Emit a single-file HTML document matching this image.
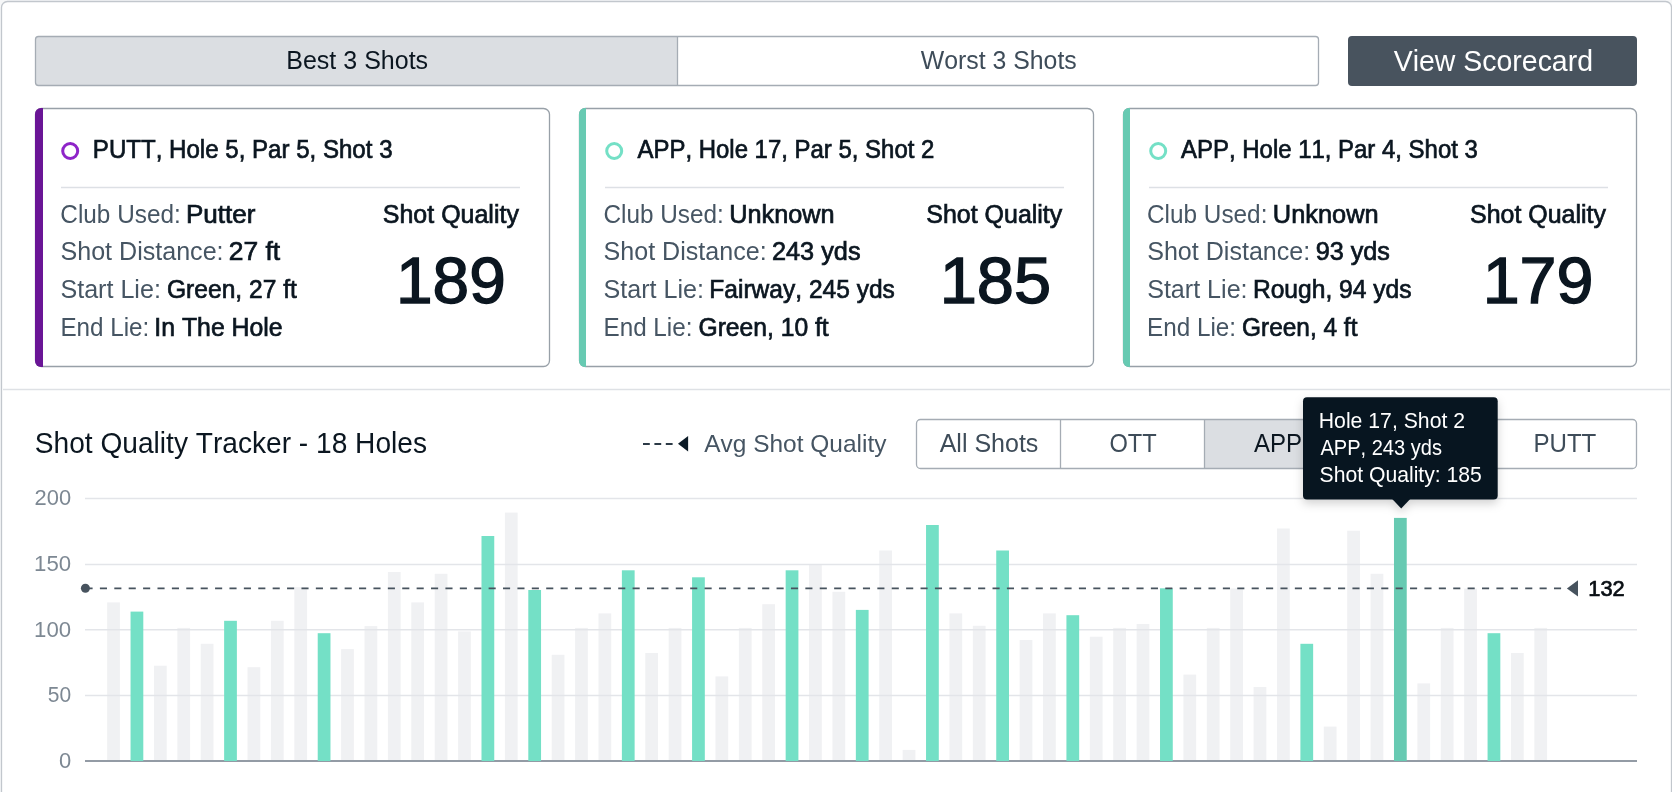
<!DOCTYPE html>
<html><head><meta charset="utf-8"><style>
html,body{margin:0;padding:0;background:#F6F7F8;width:1672px;height:792px;overflow:hidden}
svg{display:block}
text{font-family:"Liberation Sans", sans-serif;font-kerning:none}
</style></head><body>
<svg width="1672" height="792" viewBox="0 0 1672 792">
<defs><filter id="sh" x="-20%" y="-20%" width="140%" height="160%" color-interpolation-filters="sRGB"><feDropShadow dx="0" dy="4" stdDeviation="5" flood-color="#000" flood-opacity="0.18"/></filter></defs>
<rect x="1.5" y="1.5" width="1670" height="900" rx="6" fill="#FFFFFF" stroke="#C2C7CD" stroke-width="1.3"/>
<rect x="35.5" y="36.5" width="1283" height="49" rx="3" fill="#FFFFFF"/>
<path d="M38.5,36.5 H677.5 V85.5 H38.5 A3,3 0 0 1 35.5,82.5 V39.5 A3,3 0 0 1 38.5,36.5 Z" fill="#DBDEE2"/>
<rect x="35.5" y="36.5" width="1283" height="49" rx="3" fill="none" stroke="#A5ACB4" stroke-width="1.3"/>
<line x1="677.5" x2="677.5" y1="36.5" y2="85.5" stroke="#A5ACB4" stroke-width="1.3"/>
<rect x="1348" y="36" width="289" height="50" rx="4" fill="#48535E"/>
<rect x="35.5" y="108.5" width="514" height="258" rx="6" fill="#FFFFFF" stroke="#98A0A8" stroke-width="1.3"/>
<path d="M43,107.9 L41,107.9 A6,6 0 0 0 35,113.9 L35,361.1 A6,6 0 0 0 41,367.1 L43,367.1 Z" fill="#6A1596"/>
<circle cx="70.2" cy="151" r="7.5" fill="none" stroke="#8E24C8" stroke-width="3"/>
<line x1="61" x2="520" y1="187.5" y2="187.5" stroke="#DDE0E5" stroke-width="1.3"/>
<rect x="579.5" y="108.5" width="514" height="258" rx="6" fill="#FFFFFF" stroke="#98A0A8" stroke-width="1.3"/>
<path d="M586,107.9 L585,107.9 A6,6 0 0 0 579,113.9 L579,361.1 A6,6 0 0 0 585,367.1 L586,367.1 Z" fill="#67CAB2"/>
<circle cx="614.2" cy="151" r="7.5" fill="none" stroke="#74E0C6" stroke-width="3"/>
<line x1="605" x2="1064" y1="187.5" y2="187.5" stroke="#DDE0E5" stroke-width="1.3"/>
<rect x="1123.5" y="108.5" width="513" height="258" rx="6" fill="#FFFFFF" stroke="#98A0A8" stroke-width="1.3"/>
<path d="M1130,107.9 L1129,107.9 A6,6 0 0 0 1123,113.9 L1123,361.1 A6,6 0 0 0 1129,367.1 L1130,367.1 Z" fill="#67CAB2"/>
<circle cx="1158.2" cy="151" r="7.5" fill="none" stroke="#74E0C6" stroke-width="3"/>
<line x1="1149" x2="1608" y1="187.5" y2="187.5" stroke="#DDE0E5" stroke-width="1.3"/>
<line x1="3" x2="1670" y1="389.5" y2="389.5" stroke="#DEE1E5" stroke-width="1.3"/>
<line x1="643" x2="673" y1="444" y2="444" stroke="#2C3A46" stroke-width="1.8" stroke-dasharray="6.8 4.6"/>
<path d="M678,443.8 L688.1,436 L688.1,451.6 Z" fill="#0B1A26"/>
<rect x="916.5" y="419.5" width="720.0" height="49" rx="4" fill="#FFFFFF"/>
<rect x="1204.5" y="419.5" width="144.0" height="49" fill="#DBDEE2"/>
<rect x="916.5" y="419.5" width="720.0" height="49" rx="4" fill="none" stroke="#A5ACB4" stroke-width="1.3"/>
<line x1="1060.5" x2="1060.5" y1="419.5" y2="468.5" stroke="#A5ACB4" stroke-width="1.3"/>
<line x1="1204.5" x2="1204.5" y1="419.5" y2="468.5" stroke="#A5ACB4" stroke-width="1.3"/>
<line x1="1348.5" x2="1348.5" y1="419.5" y2="468.5" stroke="#A5ACB4" stroke-width="1.3"/>
<line x1="1492.5" x2="1492.5" y1="419.5" y2="468.5" stroke="#A5ACB4" stroke-width="1.3"/>
<rect x="107.15" y="602.4" width="12.75" height="158.6" fill="#F0F1F3"/>
<rect x="153.94" y="665.7" width="12.75" height="95.3" fill="#F0F1F3"/>
<rect x="177.34" y="627.9" width="12.75" height="133.1" fill="#F0F1F3"/>
<rect x="200.74" y="643.8" width="12.75" height="117.2" fill="#F0F1F3"/>
<rect x="247.53" y="667.2" width="12.75" height="93.8" fill="#F0F1F3"/>
<rect x="270.93" y="620.8" width="12.75" height="140.2" fill="#F0F1F3"/>
<rect x="294.33" y="587.2" width="12.75" height="173.8" fill="#F0F1F3"/>
<rect x="341.12" y="649.1" width="12.75" height="111.9" fill="#F0F1F3"/>
<rect x="364.52" y="626.1" width="12.75" height="134.9" fill="#F0F1F3"/>
<rect x="387.91" y="572.0" width="12.75" height="189.0" fill="#F0F1F3"/>
<rect x="411.31" y="602.4" width="12.75" height="158.6" fill="#F0F1F3"/>
<rect x="434.71" y="573.8" width="12.75" height="187.2" fill="#F0F1F3"/>
<rect x="458.11" y="631.4" width="12.75" height="129.6" fill="#F0F1F3"/>
<rect x="504.90" y="512.6" width="12.75" height="248.4" fill="#F0F1F3"/>
<rect x="551.69" y="654.8" width="12.75" height="106.2" fill="#F0F1F3"/>
<rect x="575.09" y="627.9" width="12.75" height="133.1" fill="#F0F1F3"/>
<rect x="598.49" y="613.4" width="12.75" height="147.6" fill="#F0F1F3"/>
<rect x="645.28" y="653.0" width="12.75" height="108.0" fill="#F0F1F3"/>
<rect x="668.68" y="627.9" width="12.75" height="133.1" fill="#F0F1F3"/>
<rect x="715.47" y="676.4" width="12.75" height="84.6" fill="#F0F1F3"/>
<rect x="738.87" y="627.9" width="12.75" height="133.1" fill="#F0F1F3"/>
<rect x="762.27" y="604.2" width="12.75" height="156.8" fill="#F0F1F3"/>
<rect x="809.06" y="564.6" width="12.75" height="196.4" fill="#F0F1F3"/>
<rect x="832.46" y="591.8" width="12.75" height="169.2" fill="#F0F1F3"/>
<rect x="879.25" y="550.5" width="12.75" height="210.5" fill="#F0F1F3"/>
<rect x="902.65" y="749.9" width="12.75" height="11.1" fill="#F0F1F3"/>
<rect x="949.44" y="613.4" width="12.75" height="147.6" fill="#F0F1F3"/>
<rect x="972.84" y="625.8" width="12.75" height="135.2" fill="#F0F1F3"/>
<rect x="1019.63" y="640.0" width="12.75" height="121.0" fill="#F0F1F3"/>
<rect x="1043.03" y="613.4" width="12.75" height="147.6" fill="#F0F1F3"/>
<rect x="1089.82" y="636.7" width="12.75" height="124.3" fill="#F0F1F3"/>
<rect x="1113.22" y="627.9" width="12.75" height="133.1" fill="#F0F1F3"/>
<rect x="1136.62" y="624.0" width="12.75" height="137.0" fill="#F0F1F3"/>
<rect x="1183.41" y="674.6" width="12.75" height="86.4" fill="#F0F1F3"/>
<rect x="1206.81" y="627.9" width="12.75" height="133.1" fill="#F0F1F3"/>
<rect x="1230.21" y="588.5" width="12.75" height="172.5" fill="#F0F1F3"/>
<rect x="1253.60" y="687.0" width="12.75" height="74.0" fill="#F0F1F3"/>
<rect x="1277.00" y="528.5" width="12.75" height="232.5" fill="#F0F1F3"/>
<rect x="1323.79" y="726.6" width="12.75" height="34.4" fill="#F0F1F3"/>
<rect x="1347.19" y="530.7" width="12.75" height="230.3" fill="#F0F1F3"/>
<rect x="1370.59" y="573.8" width="12.75" height="187.2" fill="#F0F1F3"/>
<rect x="1417.38" y="683.4" width="12.75" height="77.6" fill="#F0F1F3"/>
<rect x="1440.78" y="627.9" width="12.75" height="133.1" fill="#F0F1F3"/>
<rect x="1464.18" y="588.6" width="12.75" height="172.4" fill="#F0F1F3"/>
<rect x="1510.97" y="653.0" width="12.75" height="108.0" fill="#F0F1F3"/>
<rect x="1534.37" y="627.9" width="12.75" height="133.1" fill="#F0F1F3"/>
<line x1="85" x2="1637" y1="498.4" y2="498.4" stroke="#E3E5E9" stroke-width="1.5"/>
<line x1="85" x2="1637" y1="564.4" y2="564.4" stroke="#E3E5E9" stroke-width="1.5"/>
<line x1="85" x2="1637" y1="629.8" y2="629.8" stroke="#E3E5E9" stroke-width="1.5"/>
<line x1="85" x2="1637" y1="695.6" y2="695.6" stroke="#E3E5E9" stroke-width="1.5"/>
<line x1="85" x2="1637" y1="761" y2="761" stroke="#939BA5" stroke-width="1.8"/>
<rect x="130.55" y="611.6" width="12.75" height="149.4" fill="#74E0C6"/>
<rect x="224.13" y="620.8" width="12.75" height="140.2" fill="#74E0C6"/>
<rect x="317.72" y="633.2" width="12.75" height="127.8" fill="#74E0C6"/>
<rect x="481.50" y="536.0" width="12.75" height="225.0" fill="#74E0C6"/>
<rect x="528.30" y="590.0" width="12.75" height="171.0" fill="#74E0C6"/>
<rect x="621.88" y="570.3" width="12.75" height="190.7" fill="#74E0C6"/>
<rect x="692.07" y="577.3" width="12.75" height="183.7" fill="#74E0C6"/>
<rect x="785.66" y="570.3" width="12.75" height="190.7" fill="#74E0C6"/>
<rect x="855.85" y="609.9" width="12.75" height="151.1" fill="#74E0C6"/>
<rect x="926.04" y="525.0" width="12.75" height="236.0" fill="#74E0C6"/>
<rect x="996.24" y="550.5" width="12.75" height="210.5" fill="#74E0C6"/>
<rect x="1066.43" y="615.2" width="12.75" height="145.8" fill="#74E0C6"/>
<rect x="1160.02" y="588.3" width="12.75" height="172.7" fill="#74E0C6"/>
<rect x="1300.40" y="643.8" width="12.75" height="117.2" fill="#74E0C6"/>
<rect x="1393.98" y="517.9" width="12.75" height="243.1" fill="#67CAB2"/>
<rect x="1487.57" y="633.2" width="12.75" height="127.8" fill="#74E0C6"/>
<line x1="85.5" x2="1567" y1="588.3" y2="588.3" stroke="#47535E" stroke-width="1.8" stroke-dasharray="7.1 7.297"/>
<circle cx="85.4" cy="588.3" r="4.5" fill="#47535E"/>
<path d="M1566.9,588.4 L1578,580.2 L1578,596.6 Z" fill="#47535E"/>
<g filter="url(#sh)"><rect x="1303" y="397.3" width="194.7" height="102.2" rx="4" fill="#071520"/><path d="M1392.2,499 L1401.2,508.6 L1410.2,499 Z" fill="#071520"/></g>
<g opacity="0.999">
<text x="286.25" y="68.80" font-size="25.3" fill="#0B1620" textLength="141.86" lengthAdjust="spacingAndGlyphs">Best 3 Shots</text>
<text x="920.79" y="68.70" font-size="25.3" fill="#3E4C59" textLength="155.91" lengthAdjust="spacingAndGlyphs">Worst 3 Shots</text>
<text x="1393.67" y="70.90" font-size="29.0" fill="#FFFFFF" textLength="199.36" lengthAdjust="spacingAndGlyphs">View Scorecard</text>
<text x="92.86" y="158.10" font-size="25.3" fill="#0B1620" stroke="#0B1620" stroke-width="0.7" textLength="299.67" lengthAdjust="spacingAndGlyphs">PUTT, Hole 5, Par 5, Shot 3</text>
<text x="60.36" y="222.90" font-size="25.3" fill="#465563" textLength="120.36" lengthAdjust="spacingAndGlyphs">Club Used:</text>
<text x="185.92" y="222.90" font-size="25.3" fill="#0B1620" stroke="#0B1620" stroke-width="0.7" textLength="69.55" lengthAdjust="spacingAndGlyphs">Putter</text>
<text x="60.46" y="259.70" font-size="25.3" fill="#465563" textLength="163.13" lengthAdjust="spacingAndGlyphs">Shot Distance:</text>
<text x="228.84" y="259.70" font-size="25.3" fill="#0B1620" stroke="#0B1620" stroke-width="0.7" textLength="51.39" lengthAdjust="spacingAndGlyphs">27 ft</text>
<text x="60.46" y="298.00" font-size="25.3" fill="#465563" textLength="100.43" lengthAdjust="spacingAndGlyphs">Start Lie:</text>
<text x="167.00" y="298.00" font-size="25.3" fill="#0B1620" stroke="#0B1620" stroke-width="0.7" textLength="129.84" lengthAdjust="spacingAndGlyphs">Green, 27 ft</text>
<text x="60.41" y="335.70" font-size="25.3" fill="#465563" textLength="88.90" lengthAdjust="spacingAndGlyphs">End Lie:</text>
<text x="154.35" y="335.70" font-size="25.3" fill="#0B1620" stroke="#0B1620" stroke-width="0.7" textLength="128.31" lengthAdjust="spacingAndGlyphs">In The Hole</text>
<text x="382.81" y="223.00" font-size="25.3" fill="#0B1620" stroke="#0B1620" stroke-width="0.7" textLength="136.09" lengthAdjust="spacingAndGlyphs">Shot Quality</text>
<text x="396.00" y="303.10" font-size="65.2" fill="#0B1620" stroke="#0B1620" stroke-width="1.4" textLength="109.71" lengthAdjust="spacingAndGlyphs">189</text>
<text x="637.48" y="158.10" font-size="25.3" fill="#0B1620" stroke="#0B1620" stroke-width="0.7" textLength="296.89" lengthAdjust="spacingAndGlyphs">APP, Hole 17, Par 5, Shot 2</text>
<text x="603.46" y="222.90" font-size="25.3" fill="#465563" textLength="120.36" lengthAdjust="spacingAndGlyphs">Club Used:</text>
<text x="729.20" y="222.90" font-size="25.3" fill="#0B1620" stroke="#0B1620" stroke-width="0.7">Unknown</text>
<text x="603.56" y="259.70" font-size="25.3" fill="#465563" textLength="163.13" lengthAdjust="spacingAndGlyphs">Shot Distance:</text>
<text x="771.98" y="259.70" font-size="25.3" fill="#0B1620" stroke="#0B1620" stroke-width="0.7">243 yds</text>
<text x="603.56" y="298.00" font-size="25.3" fill="#465563" textLength="100.43" lengthAdjust="spacingAndGlyphs">Start Lie:</text>
<text x="709.33" y="298.00" font-size="25.3" fill="#0B1620" stroke="#0B1620" stroke-width="0.7" textLength="185.52" lengthAdjust="spacingAndGlyphs">Fairway, 245 yds</text>
<text x="603.51" y="335.70" font-size="25.3" fill="#465563" textLength="88.90" lengthAdjust="spacingAndGlyphs">End Lie:</text>
<text x="698.50" y="335.70" font-size="25.3" fill="#0B1620" stroke="#0B1620" stroke-width="0.7" textLength="130.14" lengthAdjust="spacingAndGlyphs">Green, 10 ft</text>
<text x="926.31" y="223.00" font-size="25.3" fill="#0B1620" stroke="#0B1620" stroke-width="0.7" textLength="135.99" lengthAdjust="spacingAndGlyphs">Shot Quality</text>
<text x="939.73" y="303.10" font-size="65.2" fill="#0B1620" stroke="#0B1620" stroke-width="1.4" textLength="111.46" lengthAdjust="spacingAndGlyphs">185</text>
<text x="1181.08" y="158.10" font-size="25.3" fill="#0B1620" stroke="#0B1620" stroke-width="0.7" textLength="296.74" lengthAdjust="spacingAndGlyphs">APP, Hole 11, Par 4, Shot 3</text>
<text x="1147.06" y="222.90" font-size="25.3" fill="#465563" textLength="120.36" lengthAdjust="spacingAndGlyphs">Club Used:</text>
<text x="1272.79" y="222.90" font-size="25.3" fill="#0B1620" stroke="#0B1620" stroke-width="0.7" textLength="105.91" lengthAdjust="spacingAndGlyphs">Unknown</text>
<text x="1147.16" y="259.70" font-size="25.3" fill="#465563" textLength="163.13" lengthAdjust="spacingAndGlyphs">Shot Distance:</text>
<text x="1315.67" y="259.70" font-size="25.3" fill="#0B1620" stroke="#0B1620" stroke-width="0.7" textLength="74.30" lengthAdjust="spacingAndGlyphs">93 yds</text>
<text x="1147.16" y="298.00" font-size="25.3" fill="#465563" textLength="100.43" lengthAdjust="spacingAndGlyphs">Start Lie:</text>
<text x="1252.92" y="298.00" font-size="25.3" fill="#0B1620" stroke="#0B1620" stroke-width="0.7" textLength="158.63" lengthAdjust="spacingAndGlyphs">Rough, 94 yds</text>
<text x="1147.11" y="335.70" font-size="25.3" fill="#465563" textLength="88.90" lengthAdjust="spacingAndGlyphs">End Lie:</text>
<text x="1242.11" y="335.70" font-size="25.3" fill="#0B1620" stroke="#0B1620" stroke-width="0.7" textLength="115.33" lengthAdjust="spacingAndGlyphs">Green, 4 ft</text>
<text x="1470.01" y="223.00" font-size="25.3" fill="#0B1620" stroke="#0B1620" stroke-width="0.7" textLength="135.89" lengthAdjust="spacingAndGlyphs">Shot Quality</text>
<text x="1482.66" y="303.10" font-size="65.2" fill="#0B1620" stroke="#0B1620" stroke-width="1.4" textLength="110.78" lengthAdjust="spacingAndGlyphs">179</text>
<text x="34.82" y="452.80" font-size="29.3" fill="#0B1620" textLength="392.19" lengthAdjust="spacingAndGlyphs">Shot Quality Tracker - 18 Holes</text>
<text x="704.25" y="451.60" font-size="24.6" fill="#465563" textLength="182.20" lengthAdjust="spacingAndGlyphs">Avg Shot Quality</text>
<text x="939.65" y="452.10" font-size="25.3" fill="#3E4C59" textLength="98.75" lengthAdjust="spacingAndGlyphs">All Shots</text>
<text x="1109.48" y="452.10" font-size="25.3" fill="#3E4C59" textLength="47.26" lengthAdjust="spacingAndGlyphs">OTT</text>
<text x="1253.95" y="452.10" font-size="25.3" fill="#0B1620" textLength="48.12" lengthAdjust="spacingAndGlyphs">APP</text>
<text x="1533.42" y="452.10" font-size="25.3" fill="#3E4C59" textLength="62.93" lengthAdjust="spacingAndGlyphs">PUTT</text>
<text x="34.60" y="505.00" font-size="22.1" fill="#7D8893" textLength="36.56" lengthAdjust="spacingAndGlyphs">200</text>
<text x="34.11" y="571.00" font-size="22.1" fill="#7D8893" textLength="37.06" lengthAdjust="spacingAndGlyphs">150</text>
<text x="34.11" y="636.50" font-size="22.1" fill="#7D8893" textLength="37.06" lengthAdjust="spacingAndGlyphs">100</text>
<text x="47.76" y="702.20" font-size="22.1" fill="#7D8893" textLength="23.36" lengthAdjust="spacingAndGlyphs">50</text>
<text x="58.94" y="768.00" font-size="22.1" fill="#7D8893" textLength="12.22" lengthAdjust="spacingAndGlyphs">0</text>
<text x="1588.29" y="596.00" font-size="21.6" fill="#0A0F14" stroke="#0A0F14" stroke-width="0.7" textLength="36.46" lengthAdjust="spacingAndGlyphs">132</text>
<text x="1318.76" y="427.60" font-size="21.6" fill="#FFFFFF" textLength="146.31" lengthAdjust="spacingAndGlyphs">Hole 17, Shot 2</text>
<text x="1320.46" y="454.80" font-size="21.6" fill="#FFFFFF" textLength="121.46" lengthAdjust="spacingAndGlyphs">APP, 243 yds</text>
<text x="1319.54" y="481.70" font-size="21.6" fill="#FFFFFF" textLength="162.35" lengthAdjust="spacingAndGlyphs">Shot Quality: 185</text>
</g>
</svg>
</body></html>
